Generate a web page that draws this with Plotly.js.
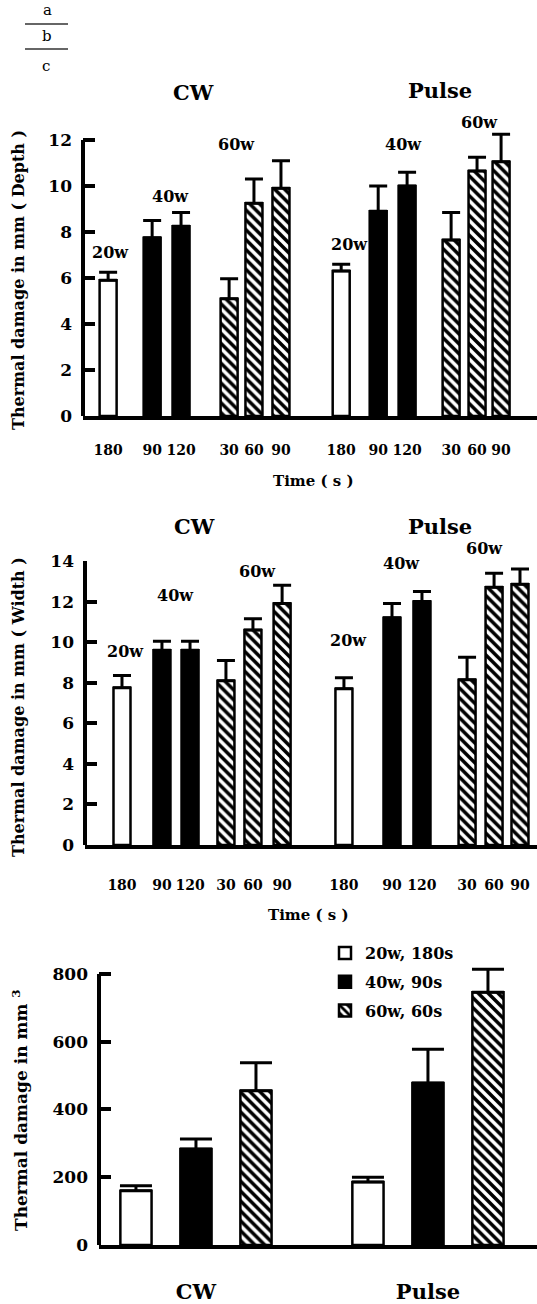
<!DOCTYPE html>
<html>
<head>
<meta charset="utf-8">
<script src="https://cdn.plot.ly/plotly-3.0.1.min.js"></script>
<style>html,body{margin:0;padding:0;background:#fff;}#chart{width:537px;height:1304px;}</style>
</head>
<body>
<div id="chart"></div>
<script>
// ---------- DATA ----------
// Panels a (depth) and b (width): one bar per power/time combination
const modes      = ['CW','CW','CW','CW','CW','CW','Pulse','Pulse','Pulse','Pulse','Pulse','Pulse'];
const powers     = ['20w','40w','40w','60w','60w','60w','20w','40w','40w','60w','60w','60w'];
const times      = ['180','90','120','30','60','90','180','90','120','30','60','90'];
const depthMean  = [5.9, 7.75, 8.25, 5.1, 9.25, 9.9, 6.3, 8.9, 10.0, 7.65, 10.65, 11.05];
const depthErr   = [0.35, 0.75, 0.6, 0.87, 1.05, 1.2, 0.3, 1.1, 0.6, 1.2, 0.6, 1.2];
const widthMean  = [7.75, 9.6, 9.6, 8.1, 10.6, 11.9, 7.7, 11.2, 12.0, 8.15, 12.7, 12.85];
const widthErr   = [0.6, 0.45, 0.45, 1.0, 0.55, 0.9, 0.55, 0.7, 0.5, 1.1, 0.7, 0.75];
// Panel c (volume)
const volGroups  = ['CW','Pulse'];
const volSeries  = ['20w, 180s','40w, 90s','60w, 60s'];
const volMean    = [[160, 186], [283, 478], [455, 746]];
const volErr     = [[15, 14], [30, 100], [83, 68]];

// ---------- LAYOUT HELPERS ----------
const W = 537, H = 1304;
const px = x => x / W;
const py = y => 1 - y / H;
// abstract slot positions along the x axes of panels a and b (layout, not data)
const slotA = [0.93, 2.56, 3.63, 5.41, 6.33, 7.33, 9.56, 10.93, 12.0, 13.63, 14.59, 15.48];
const slotB = [1.37, 2.85, 3.89, 5.22, 6.22, 7.3, 9.59, 11.37, 12.48, 14.15, 15.15, 16.11];
const FONT = 'DejaVu Serif';
const styleFor = {
  '20w': {color: 'white', pattern: {shape: ''}},
  '40w': {color: 'black', pattern: {shape: ''}},
  '60w': {color: 'white', pattern: {shape: '\\', fgcolor: 'black', bgcolor: 'white', size: 7, solidity: 0.5}}
};

function panelTraces(values, errs, slots, xa, ya) {
  return ['20w','40w','60w'].map(pw => {
    const idx = powers.map((p, i) => p === pw ? i : -1).filter(i => i >= 0);
    const st = styleFor[pw];
    return {
      type: 'bar', xaxis: xa, yaxis: ya, showlegend: false, cliponaxis: false,
      x: idx.map(i => slots[i]),
      y: idx.map(i => values[i]),
      customdata: idx.map(i => modes[i] + ' ' + powers[i] + ', ' + times[i] + ' s'),
      width: 0.63, offset: -0.315,
      marker: {color: st.color, pattern: st.pattern, line: {color: 'black', width: 2.5}},
      error_y: {type: 'data', symmetric: false, array: idx.map(i => errs[i]),
                arrayminus: idx.map(() => 0), color: 'black', thickness: 3, width: 9}
    };
  });
}

const traces = [
  ...panelTraces(depthMean, depthErr, slotA, 'x', 'y'),
  ...panelTraces(widthMean, widthErr, slotB, 'x2', 'y2'),
  ...volSeries.map((name, k) => {
    const st = styleFor[['20w','40w','60w'][k]];
    return {
      type: 'bar', xaxis: 'x3', yaxis: 'y3', name: name, legendgroup: 'g' + k, cliponaxis: false,
      x: volGroups, y: volMean[k],
      marker: {color: st.color, pattern: st.pattern, line: {color: 'black', width: 2.5}},
      error_y: {type: 'data', symmetric: false, array: volErr[k],
                arrayminus: volGroups.map(() => 0), color: 'black', thickness: 3, width: 16}
    };
  })
];

// y axes: the visible axis line stops at the top tick (drawn as a shape),
// while the range leaves headroom so error bars above the top tick are not clipped
const yAxisCommon = {
  showline: false, ticks: 'inside', ticklen: 12,
  tickwidth: 4, tickcolor: 'black', showgrid: false, zeroline: false,
  tickfont: {family: FONT, size: 17, color: 'black', weight: 700},
  ticklabelstandoff: 10, fixedrange: true
};
const xAxisCommon = {
  showline: true, linewidth: 4, linecolor: 'black', ticks: '', showgrid: false,
  zeroline: false, fixedrange: true,
  tickfont: {family: FONT, size: 14, color: 'black', weight: 700}
};

function ann(text, x, y, size, extra) {
  return Object.assign({text: text, xref: 'paper', yref: 'paper', x: px(x), y: py(y),
    xanchor: 'center', yanchor: 'middle', showarrow: false,
    font: {family: FONT, size: size, color: 'black', weight: 700}}, extra || {});
}
function yLine(xa, ya, top) {
  return {type: 'line', xref: xa + ' domain', yref: ya, x0: 0, x1: 0, y0: 0, y1: top,
          line: {color: 'black', width: 4}};
}

const annotations = [
  // figure part labels
  ann('a', 47, 10, 15, {font: {family: FONT, size: 15, color: 'black'}}),
  ann('b', 47, 36, 15, {font: {family: FONT, size: 15, color: 'black'}}),
  ann('c', 46, 66, 15, {font: {family: FONT, size: 15, color: 'black'}}),
  // panel a
  ann('CW', 193, 93, 21), ann('Pulse', 440, 91, 21),
  ann('20w', 110, 253, 16), ann('40w', 170, 197, 16), ann('60w', 236, 144, 16),
  ann('20w', 349, 245, 16), ann('40w', 403, 145, 16), ann('60w', 479, 122, 16),
  ann('Thermal damage in mm ( Depth )', 18, 280, 16, {textangle: -90}),
  ann('Time ( s )', 313, 481, 15),
  // panel b
  ann('CW', 194, 527, 21), ann('Pulse', 440, 527, 21),
  ann('20w', 125, 651, 16), ann('40w', 175, 595, 16), ann('60w', 257, 571, 16),
  ann('20w', 348, 640, 16), ann('40w', 401, 563, 16), ann('60w', 484, 548, 16),
  ann('Thermal damage in mm ( Width )', 18, 707, 16, {textangle: -90}),
  ann('Time ( s )', 308, 915, 15),
  // panel c
  ann('Thermal damage in mm <sup>3</sup>', 20, 1110, 17, {textangle: -90})
];

const layout = {
  width: W, height: H, autosize: false,
  margin: {l: 0, r: 0, t: 0, b: 0, pad: 0},
  paper_bgcolor: 'white', plot_bgcolor: 'white',
  barmode: 'group', bargap: 0.224, bargroupgap: 0.48,
  showlegend: true,
  legend: {x: px(325), y: py(936), xanchor: 'left', yanchor: 'top', traceorder: 'grouped',
           bgcolor: 'rgba(0,0,0,0)', tracegroupgap: 5, itemwidth: 30,
           font: {family: FONT, size: 16, color: 'black', weight: 700}},
  xaxis: Object.assign({}, xAxisCommon, {domain: [px(83), 1], range: [0, 16.81], anchor: 'y',
          tickmode: 'array', tickvals: slotA, ticktext: times, ticklabelstandoff: 18}),
  yaxis: Object.assign({}, yAxisCommon, {domain: [py(416), py(126.2)], range: [0, 12.6], dtick: 2, anchor: 'x'}),
  xaxis2: Object.assign({}, xAxisCommon, {domain: [px(85), 1], range: [0, 16.74], anchor: 'y2',
          tickmode: 'array', tickvals: slotB, ticktext: times, ticklabelstandoff: 24}),
  yaxis2: Object.assign({}, yAxisCommon, {domain: [py(845), py(561)], range: [0, 14], dtick: 2, anchor: 'x2'}),
  xaxis3: Object.assign({}, xAxisCommon, {domain: [px(99), 1], type: 'category', range: [-0.418, 1.47],
          anchor: 'y3', ticklabelstandoff: 25,
          tickfont: {family: FONT, size: 21, color: 'black', weight: 700}}),
  yaxis3: Object.assign({}, yAxisCommon, {domain: [py(1245), py(960.4)], range: [0, 840], tickvals: [0, 200, 400, 600, 800], anchor: 'x3'}),
  shapes: [
    {type: 'line', xref: 'paper', yref: 'paper', x0: px(25), x1: px(68), y0: py(24), y1: py(24), line: {color: '#333', width: 1.5}},
    {type: 'line', xref: 'paper', yref: 'paper', x0: px(25), x1: px(68), y0: py(49), y1: py(49), line: {color: '#333', width: 1.5}},
    yLine('x', 'y', 12), yLine('x2', 'y2', 14), yLine('x3', 'y3', 800)
  ],
  annotations: annotations
};

Plotly.newPlot('chart', traces, layout, {displayModeBar: false, staticPlot: true});
</script>
</body>
</html>
